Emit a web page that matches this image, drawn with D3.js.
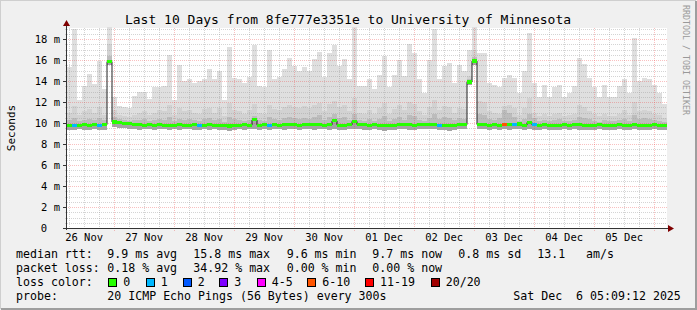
<!DOCTYPE html>
<html>
<head>
<meta charset="utf-8">
<script src="https://cdn.jsdelivr.net/npm/d3@7"></script>
<style>
  body { margin: 0; background: #f0f0f0; }
  svg { display: block; font-family: "DejaVu Sans Mono", monospace; }
</style>
</head>
<body>
<svg id="chart" width="697" height="310"></svg>
<script>
// SmokePing 10 day graph, one value per 2 hour bin (ms)
const smokeMax = [
  15.3, 19.0, 12.2, 13.5, 14.7, 13.7, 15.9, 13.2, 19.1, 12.5, 11.6, 11.5,
  11.4, 12.6, 13.0, 13.0, 12.3, 13.4, 13.4, 13.5, 16.5, 12.2, 15.5, 14.0,
  14.2, 13.8, 14.0, 14.2, 15.1, 14.2, 15.0, 12.2, 17.2, 14.3, 14.2, 13.8,
  14.4, 17.4, 13.5, 13.4, 17.0, 14.2, 14.4, 15.1, 16.2, 15.4, 15.0, 15.3,
  15.0, 16.1, 16.8, 14.4, 16.7, 17.4, 15.4, 16.1, 14.2, 19.1, 13.5, 13.5,
  14.2, 13.2, 14.6, 16.4, 13.4, 14.6, 16.0, 14.5, 17.5, 16.7, 14.2, 12.9,
  16.0, 19.0, 14.2, 15.4, 15.7, 13.8, 15.5, 15.0, 17.0, 19.1, 16.7, 16.7,
  13.8, 13.6, 13.4, 14.3, 14.6, 14.3, 12.9, 15.0, 18.6, 13.8, 12.5, 13.6,
  12.5, 13.4, 13.6, 12.5, 12.9, 13.5, 16.2, 15.6, 14.3, 13.4, 12.5, 13.6,
  12.5, 12.5, 13.5, 14.2, 12.9, 18.1, 14.0, 14.3, 14.2, 13.6, 12.9, 11.8
];
const smokeMid = [
  11.0, 11.6, 10.8, 11.1, 11.3, 11.0, 11.5, 10.8, 17.5, 11.2, 10.8, 10.7,
  10.6, 10.8, 11.0, 11.1, 10.8, 11.0, 11.2, 11.1, 11.7, 10.8, 11.4, 11.1,
  11.2, 11.0, 10.9, 11.3, 11.4, 11.0, 11.4, 10.7, 11.9, 11.2, 11.1, 10.9,
  11.2, 11.8, 11.0, 10.9, 11.7, 11.3, 11.2, 11.5, 11.7, 11.5, 11.4, 11.6,
  11.4, 11.7, 11.9, 11.1, 11.8, 12.1, 11.5, 11.7, 11.1, 12.4, 11.0, 10.9,
  11.2, 10.9, 11.4, 11.9, 10.9, 11.3, 11.7, 11.2, 12.0, 11.8, 11.1, 10.8,
  11.5, 12.2, 11.2, 11.6, 11.5, 11.0, 11.4, 11.3, 14.5, 17.0, 12.1, 12.0,
  11.1, 11.0, 10.9, 11.6, 11.7, 11.4, 10.8, 11.4, 12.4, 11.0, 10.7, 10.9,
  10.7, 10.9, 11.0, 10.7, 10.8, 10.9, 11.7, 11.5, 11.1, 10.9, 10.7, 10.9,
  10.7, 10.7, 10.9, 11.2, 10.8, 12.0, 11.1, 11.2, 11.1, 10.9, 10.8, 10.5
];
const smokeLow = [
  10.3, 10.5, 10.2, 10.3, 10.4, 10.3, 10.5, 10.3, 16.4, 10.6, 10.4, 10.3,
  10.2, 10.3, 10.3, 10.4, 10.2, 10.3, 10.4, 10.3, 10.6, 10.2, 10.4, 10.3,
  10.4, 10.3, 10.2, 10.4, 10.5, 10.3, 10.4, 10.1, 10.6, 10.4, 10.3, 10.2,
  10.3, 10.7, 10.3, 10.2, 10.6, 10.4, 10.3, 10.5, 10.6, 10.5, 10.4, 10.5,
  10.4, 10.6, 10.8, 10.3, 10.6, 10.9, 10.5, 10.6, 10.3, 10.9, 10.3, 10.2,
  10.4, 10.2, 10.4, 10.7, 10.2, 10.4, 10.6, 10.3, 10.8, 10.7, 10.3, 10.2,
  10.5, 10.9, 10.4, 10.6, 10.5, 10.3, 10.5, 10.4, 14.2, 16.3, 10.9, 10.8,
  10.4, 10.3, 10.5, 11.2, 11.0, 10.6, 10.2, 10.4, 10.9, 10.5, 10.2, 10.3,
  10.2, 10.3, 10.4, 10.2, 10.2, 10.3, 10.6, 10.5, 10.4, 10.2, 10.1, 10.3,
  10.2, 10.2, 10.3, 10.4, 10.2, 10.8, 10.4, 10.5, 10.4, 10.3, 10.2, 10.1
];
const smokeMin = [
  9.3, 9.3, 9.4, 9.3, 9.3, 9.4, 9.3, 9.3, 15.5, 9.6, 9.5, 9.5,
  9.4, 9.4, 9.3, 9.4, 9.4, 9.3, 9.4, 9.4, 9.3, 9.4, 9.3, 9.4,
  9.4, 9.3, 9.3, 9.4, 9.3, 9.4, 9.3, 9.3, 9.2, 9.3, 9.4, 9.3,
  9.4, 9.4, 9.3, 9.4, 9.3, 9.4, 9.4, 9.3, 9.4, 9.4, 9.3, 9.4,
  9.4, 9.3, 9.4, 9.4, 9.3, 9.4, 9.3, 9.3, 9.4, 9.4, 9.4, 9.3,
  9.3, 9.4, 9.3, 9.2, 9.3, 9.3, 9.4, 9.4, 9.3, 9.3, 9.4, 9.4,
  9.4, 9.4, 9.3, 9.3, 9.2, 9.3, 9.4, 9.4, 13.6, 15.5, 9.4, 9.4,
  9.3, 9.4, 9.3, 9.4, 9.3, 9.4, 9.4, 9.3, 9.4, 9.3, 9.3, 9.4,
  9.3, 9.3, 9.3, 9.4, 9.3, 9.4, 9.3, 9.3, 9.3, 9.3, 9.4, 9.3,
  9.3, 9.3, 9.4, 9.3, 9.3, 9.4, 9.3, 9.3, 9.3, 9.4, 9.3, 9.3
];
const median = [
  9.80, 9.78, 9.80, 9.82, 9.80, 9.82, 9.80, 9.85, 15.85, 10.10, 10.05, 9.95,
  9.92, 9.85, 9.82, 9.80, 9.82, 9.80, 9.82, 9.80, 9.78, 9.80, 9.82, 9.80,
  9.80, 9.82, 9.78, 9.80, 9.82, 9.80, 9.80, 9.78, 9.72, 9.75, 9.80, 9.82,
  9.80, 10.30, 9.80, 9.82, 9.80, 9.82, 9.80, 9.82, 9.85, 9.82, 9.80, 9.82,
  9.85, 9.82, 9.85, 9.80, 9.82, 10.20, 9.80, 9.78, 9.82, 10.15, 9.85, 9.82,
  9.80, 9.82, 9.78, 9.75, 9.78, 9.80, 9.82, 9.85, 9.82, 9.80, 9.82, 9.85,
  9.82, 9.85, 9.80, 9.78, 9.75, 9.80, 9.82, 9.85, 13.90, 15.90, 9.85, 9.82,
  9.80, 9.82, 9.80, 9.85, 9.82, 9.85, 9.90, 9.80, 10.05, 9.82, 9.80, 9.82,
  9.80, 9.78, 9.80, 9.82, 9.80, 9.85, 9.82, 9.80, 9.78, 9.80, 9.82, 9.80,
  9.78, 9.80, 9.82, 9.80, 9.78, 9.85, 9.80, 9.78, 9.80, 9.82, 9.78, 9.75
];
// loss category per bin (index into lossColors)
const loss = [
  0, 1, 0, 0, 0, 0, 1, 0, 0, 0, 0, 0,
  0, 0, 0, 0, 0, 0, 0, 0, 0, 0, 0, 0,
  0, 0, 1, 0, 0, 0, 0, 0, 0, 0, 0, 0,
  0, 0, 0, 0, 1, 0, 0, 0, 0, 0, 0, 0,
  0, 0, 0, 0, 0, 0, 0, 0, 0, 0, 0, 0,
  0, 0, 0, 0, 0, 0, 0, 0, 0, 0, 0, 0,
  0, 0, 1, 0, 0, 0, 0, 0, 0, 0, 0, 0,
  0, 0, 0, 5, 0, 1, 0, 0, 0, 1, 0, 0,
  0, 0, 0, 0, 0, 0, 0, 0, 0, 0, 0, 0,
  0, 0, 0, 0, 0, 0, 0, 0, 0, 0, 0, 0
];
const lossLabels = ["0", "1", "2", "3", "4-5", "6-10", "11-19", "20/20"];
const lossColors = ["#26ff00", "#00b8ff", "#0059ff", "#7e00ff", "#ff00ff", "#ff5500", "#ff0000", "#a10000"];
const yTicks = [0, 2, 4, 6, 8, 10, 12, 14, 16, 18];

const legendRtt = [["median rtt:", 16], ["9.9 ms avg", 107.3], ["15.8 ms max", 193.3], ["9.6 ms min", 286.7],
  ["9.7 ms now", 372.3], ["0.8 ms sd", 458.3], ["13.1", 537.3], ["am/s", 586]];
const legendLoss = [["packet loss:", 16], ["0.18 % avg", 107.3], ["34.92 % max", 193.3], ["0.00 % min", 286.7], ["0.00 % now", 372.3]];
const lossSwatchX = [108.3, 145.7, 182.7, 219.3, 256.7, 307.3, 365, 430.7];

const svg = d3.select("#chart");
const plot = { left: 67, right: 667, top: 28, bottom: 228 };

const endTime = new Date(Date.UTC(2025, 11, 6, 5, 9, 12));
const startTime = d3.utcDay.offset(endTime, -10);

const x = d3.scaleUtc().domain([startTime, endTime]).range([plot.left, plot.right]);
const y = d3.scaleLinear().domain([0, 19.05]).range([plot.bottom, plot.top]);

const bins = median.map((m, i) => ({
  t0: d3.utcHour.offset(startTime, i * 2),
  t1: d3.utcHour.offset(startTime, (i + 1) * 2),
  min: smokeMin[i], low: smokeLow[i], mid: smokeMid[i], max: smokeMax[i],
  med: m, loss: loss[i]
}));

// background + frame
svg.append("rect").attr("width", 697).attr("height", 310).attr("fill", "#f0f0f0");
svg.append("path").attr("d", "M0,309V0H696").attr("fill", "none").attr("stroke", "#cfcfcf").attr("stroke-width", 2);
svg.append("path").attr("d", "M1,309H696V1").attr("fill", "none").attr("stroke", "#9e9e9e").attr("stroke-width", 2);

svg.append("rect")
  .attr("x", plot.left).attr("y", plot.top)
  .attr("width", plot.right - plot.left).attr("height", plot.bottom - plot.top)
  .attr("fill", "#ffffff");

// smoke layers
const layers = [
  { lo: d => d.min, hi: d => d.med, color: "#a4a4a4" },
  { lo: d => d.med, hi: d => d.low, color: "#bcbcbc" },
  { lo: d => d.low, hi: d => d.mid, color: "#d2d2d2" },
  { lo: d => d.mid, hi: d => d.max, color: "#dfdfdf" }
];
const smoke = svg.append("g").attr("shape-rendering", "crispEdges");
layers.forEach(L => {
  smoke.append("g").selectAll("rect")
    .data(bins)
    .join("rect")
    .attr("x", d => x(d.t0))
    .attr("width", d => x(d.t1) - x(d.t0))
    .attr("y", d => y(L.hi(d)))
    .attr("height", d => Math.max(0, y(L.lo(d)) - y(L.hi(d))))
    .attr("fill", L.color);
});

// grid
const grid = svg.append("g").attr("shape-rendering", "crispEdges");
const minorColor = "rgba(160,160,160,0.45)";
const majorColor = "rgba(235,60,60,0.32)";
const minorY = d3.range(0.5, 19.05, 0.5).filter(v => v % 2 !== 0);
grid.selectAll(".gy").data(minorY).join("line")
  .attr("x1", plot.left - 2).attr("x2", plot.right)
  .attr("y1", d => Math.round(y(d)) + 0.5).attr("y2", d => Math.round(y(d)) + 0.5)
  .attr("stroke", minorColor).attr("stroke-dasharray", "1,1");
const minorX = d3.utcHour.every(6).range(startTime, endTime).filter(d => d.getUTCHours() !== 0);
grid.selectAll(".gx").data(minorX).join("line")
  .attr("x1", d => Math.round(x(d)) + 0.5).attr("x2", d => Math.round(x(d)) + 0.5)
  .attr("y1", plot.top).attr("y2", plot.bottom + 2)
  .attr("stroke", minorColor).attr("stroke-dasharray", "1,1");
grid.selectAll(".my").data(yTicks.slice(1)).join("line")
  .attr("x1", plot.left - 3).attr("x2", plot.right)
  .attr("y1", d => Math.round(y(d)) + 0.5).attr("y2", d => Math.round(y(d)) + 0.5)
  .attr("stroke", majorColor).attr("stroke-dasharray", "1,1");
const majorX = d3.utcDay.range(startTime, endTime);
grid.selectAll(".mx").data(majorX).join("line")
  .attr("x1", d => Math.round(x(d)) + 0.5).attr("x2", d => Math.round(x(d)) + 0.5)
  .attr("y1", plot.top).attr("y2", plot.bottom + 3)
  .attr("stroke", majorColor).attr("stroke-dasharray", "1,1");

// median line
const medPts = bins.map(d => [d.t0, d.med]).concat([[endTime, median[median.length - 1]]]);
svg.append("path")
  .attr("d", d3.line().x(d => x(d[0])).y(d => y(d[1])).curve(d3.curveStepAfter)(medPts))
  .attr("fill", "none").attr("stroke", "#202020").attr("stroke-width", 1);

// loss coloured median band
svg.append("g").attr("shape-rendering", "crispEdges").selectAll("rect")
  .data(bins).join("rect")
  .attr("x", d => x(d.t0))
  .attr("width", d => x(d.t1) - x(d.t0))
  .attr("y", d => y(d.med + 0.15))
  .attr("height", d => y(d.med - 0.15) - y(d.med + 0.15))
  .attr("fill", d => lossColors[d.loss]);

// axes
const axes = svg.append("g").attr("shape-rendering", "crispEdges");
axes.append("line").attr("x1", plot.left - 0.5).attr("x2", plot.left - 0.5)
  .attr("y1", plot.bottom + 2).attr("y2", 22).attr("stroke", "#333");
axes.append("line").attr("x1", plot.left - 4).attr("x2", plot.right + 3)
  .attr("y1", plot.bottom + 0.5).attr("y2", plot.bottom + 0.5).attr("stroke", "#333");
axes.selectAll(".yt").data(yTicks).join("line")
  .attr("x1", plot.left - 4).attr("x2", plot.left)
  .attr("y1", d => Math.round(y(d)) + 0.5).attr("y2", d => Math.round(y(d)) + 0.5)
  .attr("stroke", "#333");
svg.append("path").attr("d", `M${plot.left - 0.5},20L${plot.left - 4},26L${plot.left + 3},26Z`).attr("fill", "#7f0000");
svg.append("path").attr("d", `M${plot.right + 7},${plot.bottom + 0.5}L${plot.right + 1},${plot.bottom - 3}L${plot.right + 1},${plot.bottom + 4}Z`).attr("fill", "#7f0000");

// y labels
svg.append("g").selectAll("text").data(yTicks).join("text")
  .attr("x", d => d === 0 ? 47.2 : 60)
  .attr("y", d => y(d) + 3.8)
  .attr("text-anchor", "end")
  .attr("font-size", "10.5px")
  .text(d => d === 0 ? "0" : `${d} m`);

// x labels at noon
const noons = d3.utcDay.range(d3.utcDay.floor(startTime), endTime)
  .map(d => d3.utcHour.offset(d, 12))
  .filter(d => d > startTime && d < endTime);
svg.append("g").selectAll("text").data(noons).join("text")
  .attr("x", d => x(d))
  .attr("y", 241)
  .attr("text-anchor", "middle")
  .attr("font-size", "10.5px")
  .text(d => d3.utcFormat("%d %b")(d));

// title and side texts
svg.append("text").attr("x", 348).attr("y", 24).attr("text-anchor", "middle")
  .attr("font-size", "13px")
  .text("Last 10 Days from 8fe777e3351e to University of Minnesota");
svg.append("text").attr("transform", "translate(15,128) rotate(-90)")
  .attr("text-anchor", "middle").attr("font-size", "11px").text("Seconds");
svg.append("text").attr("transform", "translate(683,5) rotate(90)")
  .attr("font-size", "8.3px").attr("fill", "#999").text("RRDTOOL / TOBI OETIKER");

// legend
const legend = svg.append("g").attr("font-size", "11.6px");
legendRtt.forEach(([t, px]) => legend.append("text").attr("x", px).attr("y", 258).text(t));
legendLoss.forEach(([t, px]) => legend.append("text").attr("x", px).attr("y", 272).text(t));
legend.append("text").attr("x", 16).attr("y", 286).text("loss color:");
lossLabels.forEach((lbl, i) => {
  legend.append("rect")
    .attr("x", Math.round(lossSwatchX[i]) + 0.5).attr("y", 278.5)
    .attr("width", 8).attr("height", 8)
    .attr("fill", lossColors[i]).attr("stroke", "#000");
  legend.append("text").attr("x", lossSwatchX[i] + 15).attr("y", 286).text(lbl);
});
legend.append("text").attr("x", 16).attr("y", 299.5).text("probe:");
legend.append("text").attr("x", 107.3).attr("y", 299.5).text("20 ICMP Echo Pings (56 Bytes) every 300s");
legend.append("text").attr("x", 513.3).attr("y", 299.5).text("Sat Dec \u00a06 05:09:12 2025");
</script>
</body>
</html>
